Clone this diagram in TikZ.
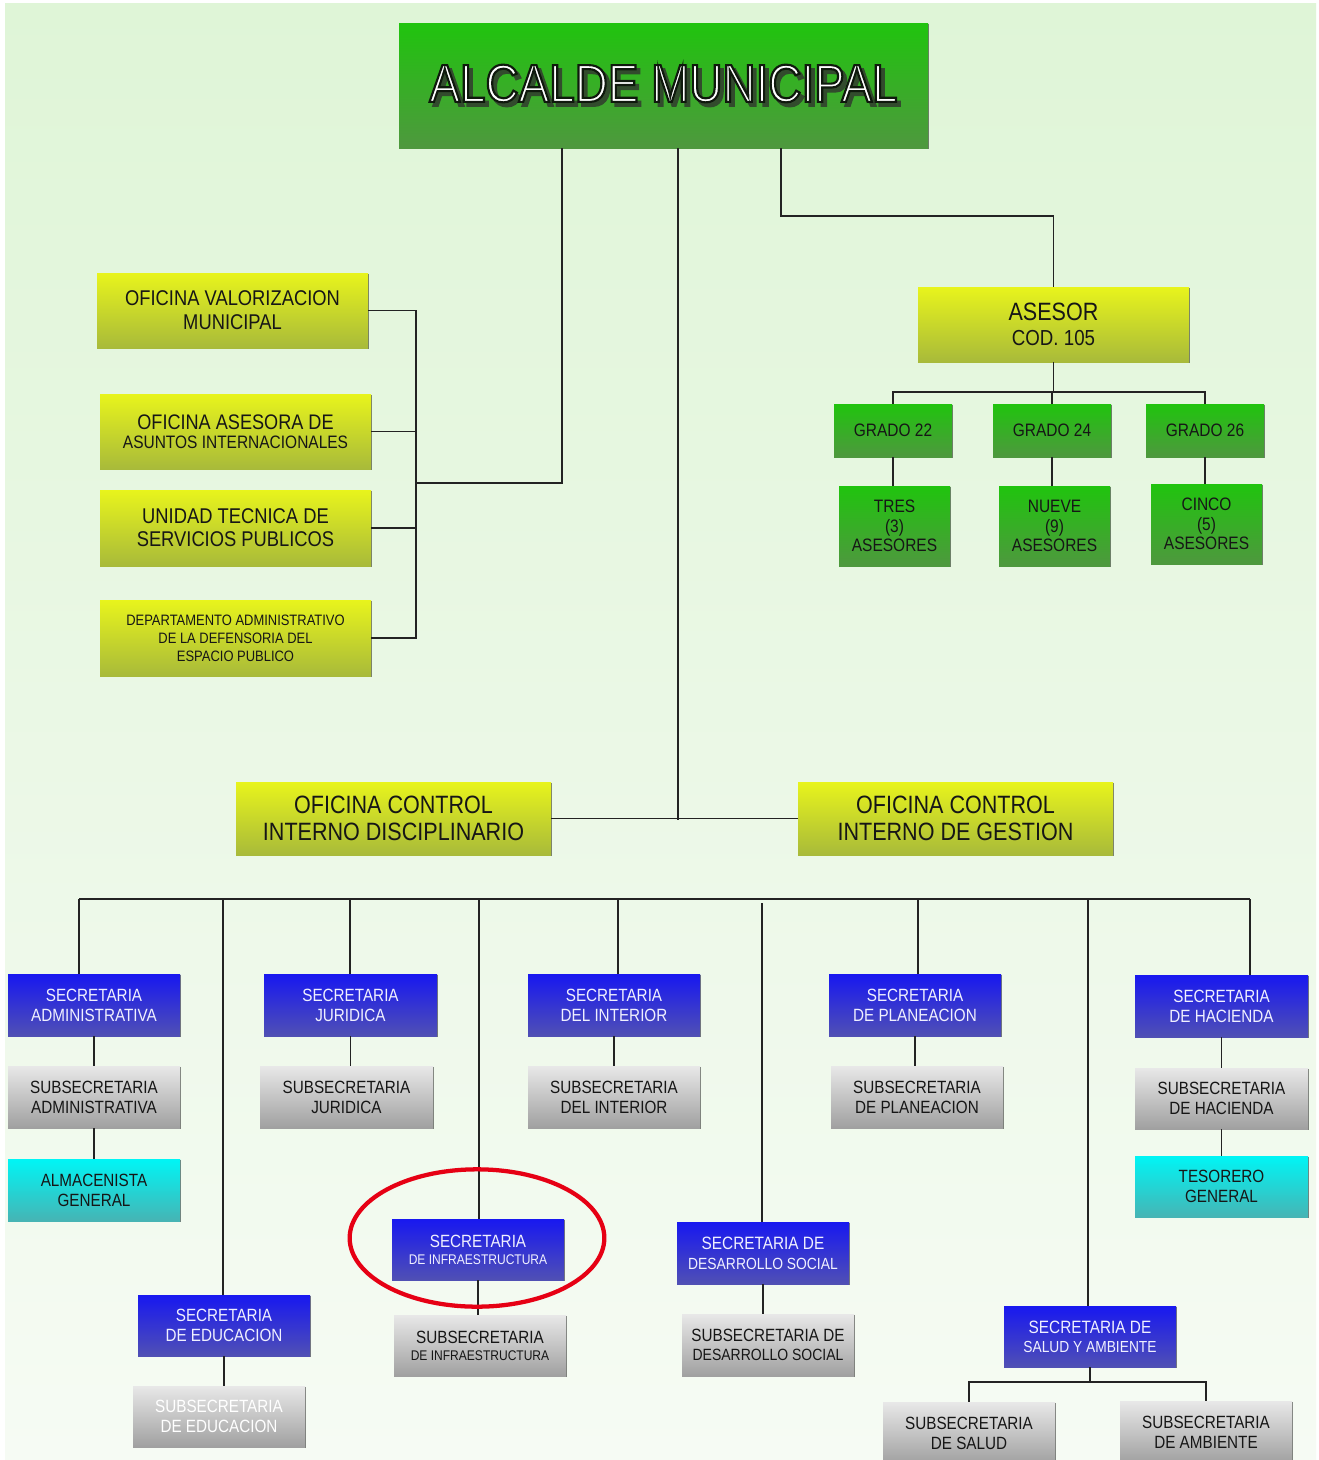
\documentclass[tikz,border=0pt]{standalone}
\usepackage{fontspec}
\setmainfont[FakeStretch=0.86]{Liberation Sans}
\newfontfamily\alcfont[FakeStretch=0.86, FakeBold=4]{Liberation Sans}
\usetikzlibrary{shadows}
\definecolor{bgT}{RGB}{223,245,215}
\definecolor{bgB}{RGB}{246,251,244}
\definecolor{ylwT}{RGB}{232,244,28}
\definecolor{ylwB}{RGB}{168,186,58}
\definecolor{grnT}{RGB}{32,196,14}
\definecolor{grnB}{RGB}{78,152,62}
\definecolor{bluT}{RGB}{24,24,240}
\definecolor{bluB}{RGB}{80,80,180}
\definecolor{gryT}{RGB}{232,232,232}
\definecolor{gryB}{RGB}{160,160,160}
\definecolor{cynT}{RGB}{0,245,245}
\definecolor{cynB}{RGB}{70,180,180}
\definecolor{txtW}{RGB}{240,240,255}
\definecolor{txtD}{RGB}{22,22,22}
\definecolor{lineC}{RGB}{35,35,35}
\definecolor{shdC}{RGB}{50,75,45}
\definecolor{ringC}{RGB}{230,0,20}
\newcommand\fs[2]{\fontsize{#1pt}{#2pt}\selectfont}
\newcommand\alctxt{ALCALDE MUNICIPAL}
\newcommand\outlinedtitle{\leavevmode
  \rlap{\kern2.8pt\raisebox{-3pt}{\textcolor{shdC}{\alcfont\fs{40}{44}\alctxt}}}%
  {\alcfont\fs{40}{44}\color{white}\special{pdf:literal direct 0.06 0.1 0.05 RG}\alctxt}}
\tikzset{
  px/.style 2 args={minimum width={#1*0.75pt}, minimum height={#2*0.75pt}},
  base/.style={rectangle, inner sep=0pt, align=center,
    drop shadow={shadow xshift=0.7pt, shadow yshift=-1.1pt, opacity=0.5, fill=black}},
  ylw/.style={base, top color=ylwT, bottom color=ylwB, text=txtD},
  grn/.style={base, top color=grnT, bottom color=grnB, text=txtD},
  blu/.style={base, top color=bluT, bottom color=bluB, text=txtW, font=\fs{13.3}{15}},
  gry/.style={base, top color=gryT, bottom color=gryB, text=txtD, font=\fs{13.3}{15}},
  cyn/.style={base, top color=cynT, bottom color=cynB, text=txtD, font=\fs{13.3}{15}},
  conn/.style={draw=lineC, line width=1.2pt},
}
\begin{document}
\begin{tikzpicture}[x=0.75pt,y=-0.75pt]
\useasboundingbox (0,0) rectangle (1318,1460);
\fill[white] (0,0) rectangle (1318,1460);
\shade[top color=bgT, bottom color=bgB] (5,3) rectangle (1316,1460);

% ---------- top ----------
\node[base, top color=grnT, bottom color=grnB, px={529}{125}] (alc) at (663.5,85.5) {\outlinedtitle};

% ---------- left yellow group ----------
\node[ylw, px={271}{75}, font=\fs{16}{18}] (val) at (232.5,310.5) {OFICINA VALORIZACION\\MUNICIPAL};
\node[ylw, px={271}{75}, font=\fs{13.5}{14.3}] (aso) at (235.5,431.5) {{\fs{15.8}{14.3}OFICINA ASESORA DE}\\ASUNTOS INTERNACIONALES};
\node[ylw, px={271}{76}, font=\fs{16}{17.3}] (uni) at (235.5,528) {UNIDAD TECNICA DE\\SERVICIOS PUBLICOS};
\node[ylw, px={271}{76}, font=\fs{11.3}{13.5}] (dep) at (235.5,638) {DEPARTAMENTO ADMINISTRATIVO\\DE LA DEFENSORIA DEL\\ESPACIO PUBLICO};

\coordinate (jA) at (562,483);
\coordinate (lbus) at (416,483);
\draw[conn] (alc.south -| jA) -- (jA) -- (lbus);
\draw[conn] (val.east) -- (val.east -| lbus) -- (dep.east -| lbus) -- (dep.east);
\draw[conn] (aso.east) -- (aso.east -| lbus);
\draw[conn] (uni.east) -- (uni.east -| lbus);

% ---------- asesor group ----------
\node[ylw, px={271}{75}, font=\fs{16.3}{18.8}] (asr) at (1053.5,324.5) {{\fs{18.8}{18.8}ASESOR}\\COD. 105};
\node[grn, px={118}{53}, font=\fs{13.5}{15}] (g22) at (893,430.5) {GRADO 22};
\node[grn, px={118}{53}, font=\fs{13.5}{15}] (g24) at (1052,430.5) {GRADO 24};
\node[grn, px={118}{53}, font=\fs{13.5}{15}] (g26) at (1205,430.5) {GRADO 26};
\node[grn, px={111}{80}, font=\fs{13.5}{14.6}] (tres) at (894.5,526) {TRES\\(3)\\ASESORES};
\node[grn, px={111}{80}, font=\fs{13.5}{14.6}] (nueve) at (1054.5,526) {NUEVE\\(9)\\ASESORES};
\node[grn, px={111}{80}, font=\fs{13.5}{14.6}] (cinco) at (1206.5,524) {CINCO\\(5)\\ASESORES};

\coordinate (jB) at (781,216);
\coordinate (gb) at (0,392);
\draw[conn] (alc.south -| jB) -- (jB) -| (asr.north);
\draw[conn] (asr.south) -- (asr.south |- gb);
\draw[conn] (g22.north) -- (g22.north |- gb) -- (g26.north |- gb) -- (g26.north);
\draw[conn] (g24.north) -- (g24.north |- gb);
\draw[conn] (g22.south) -- (g22.south |- tres.north);
\draw[conn] (g24.south) -- (g24.south |- nueve.north);
\draw[conn] (g26.south) -- (g26.south |- cinco.north);

% ---------- control offices ----------
\node[ylw, px={315}{73}, font=\fs{18.8}{20.3}] (dis) at (393.5,818.5) {OFICINA CONTROL\\INTERNO DISCIPLINARIO};
\node[ylw, px={315}{73}, font=\fs{18.8}{20.3}] (ges) at (955.5,818.5) {OFICINA CONTROL\\INTERNO DE GESTION};
\coordinate (mc) at (678,820);
\draw[conn] (alc.south -| mc) -- (mc);
\draw[conn] (dis.east) -- (ges.west);

% ---------- secretarias ----------
\node[blu, px={172}{62}] (sadm) at (94,1005) {SECRETARIA\\ADMINISTRATIVA};
\node[blu, px={173}{62}] (sjur) at (350.5,1005) {SECRETARIA\\JURIDICA};
\node[blu, px={172}{62}] (sint) at (614,1005) {SECRETARIA\\DEL INTERIOR};
\node[blu, px={172}{62}] (spla) at (915,1005) {SECRETARIA\\DE PLANEACION};
\node[blu, px={173}{62}] (shac) at (1221.5,1006) {SECRETARIA\\DE HACIENDA};

\node[gry, px={172}{62}] (uadm) at (94,1097) {SUBSECRETARIA\\ADMINISTRATIVA};
\node[gry, px={173}{62}] (ujur) at (346.5,1097) {SUBSECRETARIA\\JURIDICA};
\node[gry, px={172}{62}] (uint) at (614,1097) {SUBSECRETARIA\\DEL INTERIOR};
\node[gry, px={172}{62}] (upla) at (917,1097) {SUBSECRETARIA\\DE PLANEACION};
\node[gry, px={173}{61}] (uhac) at (1221.5,1098.5) {SUBSECRETARIA\\DE HACIENDA};

\node[cyn, px={172}{62}] (alm) at (94,1190) {ALMACENISTA\\GENERAL};
\node[cyn, px={173}{61}] (tes) at (1221.5,1186.5) {TESORERO\\GENERAL};

\node[blu, px={172}{61}, font=\fs{10.5}{12.8}] (sinf) at (478,1249.5) {{\fs{13.3}{12.8}SECRETARIA}\\DE INFRAESTRUCTURA};
\node[gry, px={172}{61}, font=\fs{10.5}{12.8}] (uinf) at (480,1345.5) {{\fs{13.3}{12.8}SUBSECRETARIA}\\DE INFRAESTRUCTURA};

\node[blu, px={172}{61}] (sedu) at (224,1325.5) {SECRETARIA\\DE EDUCACION};
\node[gry, px={172}{61}, text=white] (uedu) at (219,1416.5) {SUBSECRETARIA\\DE EDUCACION};

\node[blu, px={172}{62}, font=\fs{12.1}{15}] (sdes) at (763,1253) {{\fs{13.4}{15}SECRETARIA DE}\\DESARROLLO SOCIAL};
\node[gry, px={172}{62}, font=\fs{12.2}{14.3}] (udes) at (768,1345) {{\fs{13.3}{14.3}SUBSECRETARIA DE}\\DESARROLLO SOCIAL};

\node[blu, px={172}{61}, font=\fs{12}{14.3}] (ssal) at (1090,1336.5) {{\fs{13.4}{14.3}SECRETARIA DE}\\SALUD Y AMBIENTE};
\node[gry, px={172}{62}] (usal) at (969,1433) {SUBSECRETARIA\\DE SALUD};
\node[gry, px={172}{62}] (uamb) at (1206,1432) {SUBSECRETARIA\\DE AMBIENTE};

% bus
\coordinate (d1) at (79,899);
\coordinate (d2) at (223,899);
\coordinate (d3) at (350,899);
\coordinate (d4) at (479,899);
\coordinate (d5) at (618,899);
\coordinate (d6) at (762,903);
\coordinate (d7) at (918,899);
\coordinate (d8) at (1088,899);
\coordinate (d9) at (1250,899);
\draw[conn] (d1) -- (d9);
\draw[conn] (d1) -- (d1 |- sadm.north);
\draw[conn] (d2) -- (d2 |- sedu.north);
\draw[conn] (d3) -- (d3 |- sjur.north);
\draw[conn] (d4) -- (d4 |- sinf.north);
\draw[conn] (d5) -- (d5 |- sint.north);
\draw[conn] (d6) -- (d6 |- sdes.north);
\draw[conn] (d7) -- (d7 |- spla.north);
\draw[conn] (d8) -- (d8 |- ssal.north);
\draw[conn] (d9) -- (d9 |- shac.north);

\draw[conn] (sadm.south) -- (sadm.south |- uadm.north);
\draw[conn] (uadm.south) -- (uadm.south |- alm.north);
\draw[conn] (sjur.south) -- (sjur.south |- ujur.north);
\draw[conn] (sint.south) -- (sint.south |- uint.north);
\draw[conn] (spla.south) -- (spla.south |- upla.north);
\draw[conn] (shac.south) -- (shac.south |- uhac.north);
\draw[conn] (uhac.south) -- (uhac.south |- tes.north);
\draw[conn] (sinf.south) -- (sinf.south |- uinf.north);
\draw[conn] (sedu.south) -- (sedu.south |- uedu.north);
\draw[conn] (sdes.south) -- (sdes.south |- udes.north);

\coordinate (sb) at (0,1382);
\draw[conn] (ssal.south) -- (ssal.south |- sb);
\draw[conn] (usal.north) -- (usal.north |- sb) -- (uamb.north |- sb) -- (uamb.north);

% highlight ring
\draw[ringC, line width=3.2pt] (477,1238) ellipse [x radius=95.5pt, y radius=51.5pt];
\end{tikzpicture}
\end{document}
